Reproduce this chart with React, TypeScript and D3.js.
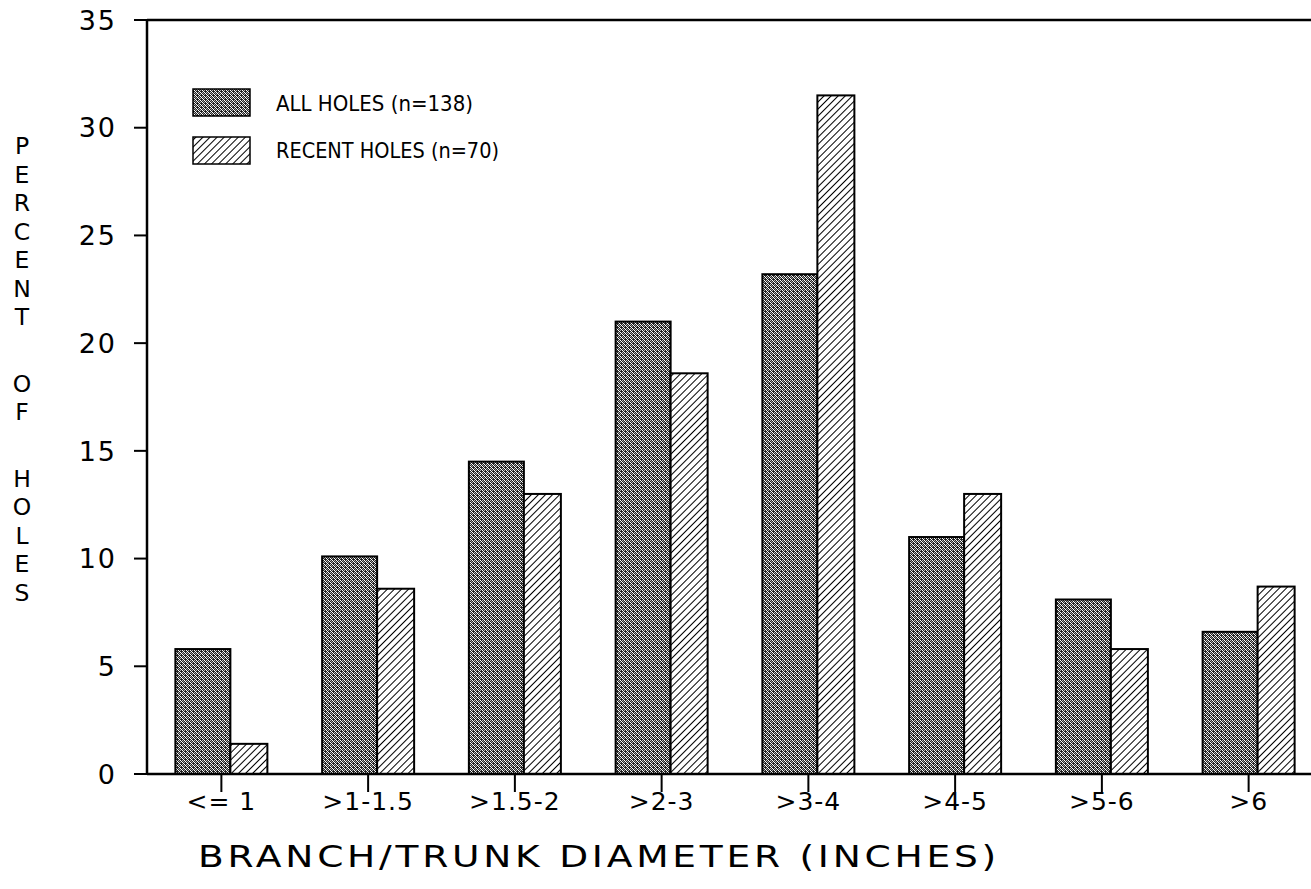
import React from 'react';
import * as d3 from 'd3';

// branch / trunk diameter classes
const categories = ['<= 1', '>1-1.5', '>1.5-2', '>2-3', '>3-4', '>4-5', '>5-6', '>6'];
// percent of holes
const allHoles = [5.8, 10.1, 14.5, 21.0, 23.2, 11.0, 8.1, 6.6];
const recentHoles = [1.4, 8.6, 13.0, 18.6, 31.5, 13.0, 5.8, 8.7];
const yTicks = [0, 5, 10, 15, 20, 25, 30, 35];
const legendLabels = ['ALL HOLES (n=138)', 'RECENT HOLES (n=70)'];
const yTitleWords = ['PERCENT', 'OF', 'HOLES'];

const W = 1311;
const H = 889;
const left = 147;
const top = 20;
const bottom = 774;
const font = '"DejaVu Sans", "Liberation Sans", sans-serif';

const App: React.FC = () => {
  const x = d3.scaleBand<string>().domain(categories).range([148, 1322]);
  const y = d3.scaleLinear().domain([0, 35]).range([bottom, top]);

  const centre = (c: string) => (x(c) || 0) + x.bandwidth() / 2;

  // y title: stacked upright letters
  const letters: { ch: string; y: number }[] = [];
  let yy = 146;
  yTitleWords.forEach(w => {
    w.split('').forEach(ch => {
      letters.push({ ch, y: yy });
      yy += 28.5;
    });
    yy += 38;
  });

  return (
    <svg width={W} height={H} style={{ position: 'absolute', left: 0, top: 0, background: '#fff' }}>
      <defs>
        <pattern id="stipple" patternUnits="userSpaceOnUse" width="4" height="4">
          <rect width="4" height="4" fill="#222" />
          <rect x="0" y="0" width="1" height="1" fill="#fff" />
          <rect x="2" y="0" width="1" height="1" fill="#bbb" />
          <rect x="1" y="1" width="1" height="1" fill="#fff" />
          <rect x="3" y="1" width="1" height="1" fill="#999" />
          <rect x="2" y="2" width="1" height="1" fill="#fff" />
          <rect x="0" y="2" width="1" height="1" fill="#aaa" />
          <rect x="3" y="3" width="1" height="1" fill="#fff" />
        </pattern>
        <pattern id="hatch" patternUnits="userSpaceOnUse" width="5" height="5" patternTransform="rotate(45)">
          <rect width="5" height="5" fill="#fff" />
          <line x1="0" y1="0" x2="0" y2="5" stroke="#000" strokeWidth="2" />
        </pattern>
      </defs>

      {/* frame: top line and left axis */}
      <line x1={left} x2={W} y1={top} y2={top} stroke="#000" strokeWidth={2.5} />
      <line x1={left} x2={left} y1={top} y2={bottom} stroke="#000" strokeWidth={2.5} />

      {/* y ticks */}
      {yTicks.map(t => (
        <g key={t}>
          <line x1={left - 13} x2={left} y1={y(t)} y2={y(t)} stroke="#000" strokeWidth={2} />
          <text x={117} y={y(t)} dy="0.36em" textAnchor="end" fontFamily={font} fontSize={27}
            letterSpacing={2}>{t}</text>
        </g>
      ))}

      {/* bars */}
      {categories.map((c, i) => {
        const cx = centre(c);
        return (
          <g key={c}>
            <rect x={cx - 46} y={y(allHoles[i])} width={55} height={bottom - y(allHoles[i])}
              fill="url(#stipple)" stroke="#000" strokeWidth={2} />
            <rect x={cx + 9} y={y(recentHoles[i])} width={37} height={bottom - y(recentHoles[i])}
              fill="url(#hatch)" stroke="#000" strokeWidth={2} />
          </g>
        );
      })}

      <line x1={left} x2={W} y1={bottom} y2={bottom} stroke="#000" strokeWidth={2.5} />

      {/* x ticks and labels */}
      {categories.map(c => (
        <g key={c}>
          <line x1={centre(c)} x2={centre(c)} y1={bottom} y2={bottom + 18} stroke="#000" strokeWidth={2} />
          <text x={centre(c)} y={810} textAnchor="middle" fontFamily={font} fontSize={25}
            letterSpacing={1}>{c}</text>
        </g>
      ))}

      <text x={198} y={867} fontFamily={font} fontSize={30}
        textLength={802} lengthAdjust="spacingAndGlyphs" letterSpacing={3}>BRANCH/TRUNK DIAMETER (INCHES)</text>

      {/* y title */}
      {letters.map((l, i) => (
        <text key={i} x={22} y={l.y} dy="0.36em" textAnchor="middle" fontFamily={font} fontSize={23.5}>{l.ch}</text>
      ))}

      {/* legend */}
      {legendLabels.map((lab, i) => (
        <g key={lab}>
          <rect x={193} y={89 + i * 48} width={57} height={27}
            fill={i === 0 ? 'url(#stipple)' : 'url(#hatch)'} stroke="#000" strokeWidth={1.5} />
          <text x={276} y={103 + i * 47} dy="0.36em" fontFamily={font} fontSize={22}
            textLength={i === 0 ? 197 : 223} lengthAdjust="spacingAndGlyphs">{lab}</text>
        </g>
      ))}
    </svg>
  );
};

export default App;
